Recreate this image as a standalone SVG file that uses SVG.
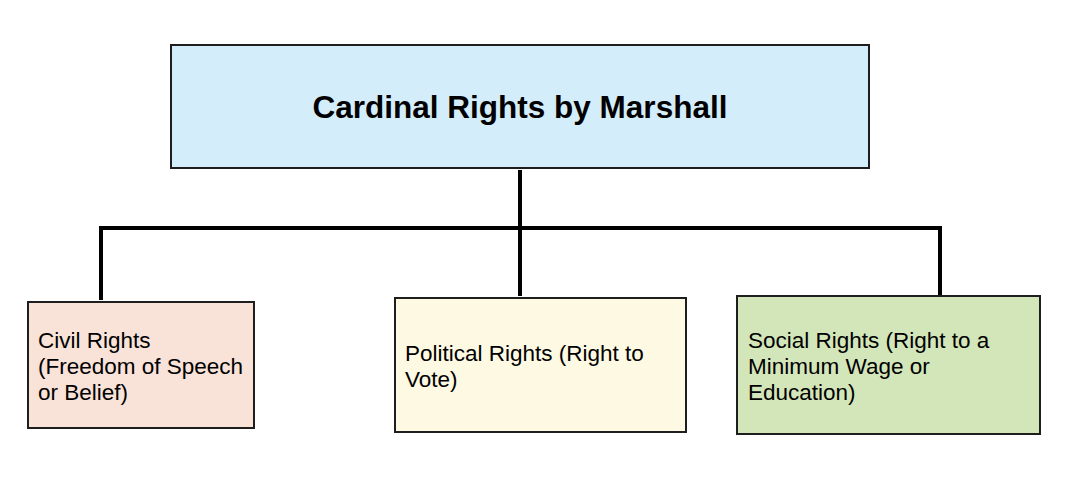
<svg xmlns="http://www.w3.org/2000/svg" width="1067" height="498" viewBox="0 0 1067 498">
<style>
.box{stroke:#1e1e1e;stroke-width:2}
.title{font-family:"Liberation Sans",Arial,sans-serif;font-weight:bold;font-size:31.5px;fill:#000}
.lbl{font-family:"Liberation Sans",Arial,sans-serif;font-size:22.5px;fill:#000}
.conn{stroke:#000;stroke-width:4;fill:none}
</style>
<rect width="1067" height="498" fill="#fff"/>
<g id="connectors">
<line class="conn" x1="520" y1="170" x2="520" y2="296"/>
<line class="conn" x1="101" y1="228" x2="941" y2="228"/>
<line class="conn" x1="101" y1="226" x2="101" y2="300"/>
<line class="conn" x1="940" y1="226" x2="940" y2="296"/>
</g>
<g id="node-root">
<rect class="box" x="171" y="45" width="698" height="123" fill="#d3edfb"/>
<text class="title" x="520" y="118" text-anchor="middle">Cardinal Rights by Marshall</text>
</g>
<g id="node-civil">
<rect class="box" x="28" y="302" width="226" height="126" fill="#f9e3d9"/>
<text class="lbl" x="38" y="348">Civil Rights</text>
<text class="lbl" x="38" y="374">(Freedom of Speech</text>
<text class="lbl" x="38" y="400">or Belief)</text>
</g>
<g id="node-political">
<rect class="box" x="395" y="298" width="291" height="134" fill="#fdf9e2"/>
<text class="lbl" x="405" y="361">Political Rights (Right to</text>
<text class="lbl" x="405" y="387">Vote)</text>
</g>
<g id="node-social">
<rect class="box" x="737" y="296" width="303" height="138" fill="#d3e6b9"/>
<text class="lbl" x="748" y="348">Social Rights (Right to a</text>
<text class="lbl" x="748" y="374">Minimum Wage or</text>
<text class="lbl" x="748" y="400">Education)</text>
</g>
</svg>
